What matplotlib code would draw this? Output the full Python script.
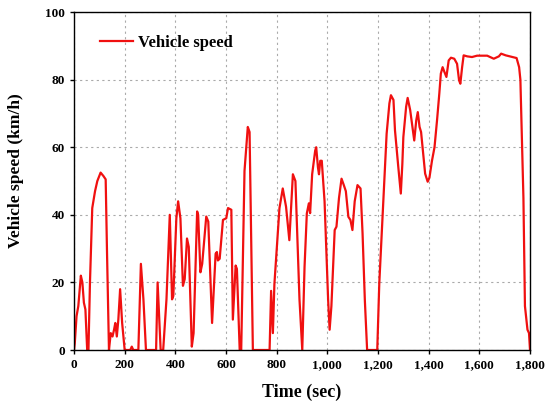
import matplotlib.pyplot as plt
from matplotlib.ticker import FuncFormatter, MultipleLocator

# Speed trace (sec, km/h)
time_s = [
    0, 3, 10, 17, 27, 33, 39, 45, 52, 57, 63, 72, 83, 92, 105, 116, 125, 130, 138,
    145, 152, 158, 163, 169, 175, 182, 190, 200, 222, 228, 234, 254, 264, 274, 284,
    324, 330, 337, 342, 352, 365, 378, 387, 392, 404, 411, 420, 430, 437, 446, 453,
    465, 472, 486, 490, 499, 506, 522, 530, 545, 559, 564, 568, 575, 588, 601, 608,
    621, 627, 638, 643, 654, 660, 673, 686, 693, 706, 772, 778, 785, 791, 811, 824,
    837, 850, 864, 874, 890, 901, 910, 919, 927, 932, 940, 952, 956, 963, 967, 972,
    978, 989, 1003, 1009, 1016, 1029, 1036, 1046, 1056, 1065, 1073, 1083, 1091, 1099,
    1108, 1119, 1131, 1139, 1148, 1157, 1197, 1205, 1221, 1234, 1245, 1251, 1261, 1267,
    1280, 1290, 1296, 1300, 1311, 1317, 1327, 1336, 1343, 1351, 1357, 1364, 1370, 1377,
    1386, 1396, 1403, 1413, 1423, 1433, 1442, 1448, 1455, 1462, 1470, 1479, 1488, 1501,
    1512, 1520, 1525, 1532, 1538, 1552, 1571, 1591, 1631, 1657, 1677, 1686, 1704, 1730,
    1747, 1757, 1762, 1774, 1780, 1790, 1796, 1800,
]
speed_kmh = [
    0, 2, 10, 13, 22, 20, 14, 12, 0, 0, 20, 42, 47, 50, 52.5, 51.5, 50.5, 30, 0,
    5, 4, 6, 8, 4, 9, 18, 8, 0, 0, 1, 0, 0, 25.5, 15, 0,
    0, 20, 8, 0, 0, 15, 40, 15, 16, 39, 44, 39, 19, 21, 33, 30.5,
    1, 5, 41, 40, 23, 25.5, 39.5, 38, 8, 28.5, 29, 26.5, 27, 38.5, 39, 42,
    41.5, 9, 25, 24, 0, 0, 53, 66, 64.5, 0, 0, 17.5, 5, 19.5, 42, 47.8,
    42.4, 32.5, 52, 50, 15, 0, 24.6, 40.4, 43.4, 40.5, 52, 59, 60, 54, 52, 56,
    56, 44, 15, 6, 13, 35.5, 36.5, 45, 50.7, 48.8, 47, 39.4, 38.5, 35.5,
    44, 48.8, 47.8, 34.5, 14.8, 0, 0, 19.7, 44.3, 64, 73, 75.4, 74, 65,
    54.2, 46.3, 55, 63, 72, 74.6, 71, 66, 62, 68, 70.4, 66, 64.5, 59,
    52.2, 49.8, 51, 56, 60, 68, 75.9, 81.8, 83.7, 82.3, 80.8, 85.7, 86.5, 86.2,
    84.7, 79.8, 78.8, 83.7, 87.2, 86.9, 86.7, 87.1, 87.1, 86.2, 86.9, 87.7, 87.2, 86.7,
    86.4, 83.7, 80, 45, 13, 6, 5, 0,
]

plt.rcParams['font.family'] = ['Liberation Serif', 'DejaVu Serif']
plt.rcParams['font.weight'] = 'bold'

fig = plt.figure(figsize=(5.45, 4.03), dpi=100)
ax = fig.add_axes([0.1358, 0.1315, 0.8367, 0.8385])

ax.plot(time_s, speed_kmh, color='#f01010', linewidth=1.6, label='Vehicle speed')

ax.set_xlim(0, 1800)
ax.set_ylim(0, 100)
ax.xaxis.set_major_locator(MultipleLocator(200))
ax.yaxis.set_major_locator(MultipleLocator(20))
ax.xaxis.set_major_formatter(FuncFormatter(lambda v, p: f"{int(v):,}"))
ax.grid(True, linestyle=(0, (2, 3)), color='#aaaaaa', linewidth=0.8)
ax.tick_params(direction='out', length=3, width=1, labelsize=9.5)
for lab in ax.get_xticklabels() + ax.get_yticklabels():
    lab.set_fontweight('bold')
for sp in ax.spines.values():
    sp.set_linewidth(1.0)

ax.set_xlabel('Time (sec)', fontsize=13, fontweight='bold', labelpad=9)
ax.set_ylabel('Vehicle speed (km/h)', fontsize=12.5, fontweight='bold')
ax.yaxis.set_label_coords(-0.11, 0.53)

ax.legend(loc='center left', frameon=False, handlelength=2.0, handletextpad=0.3,
          borderaxespad=0, borderpad=0, bbox_to_anchor=(0.057, 0.908),
          prop={'weight': 'bold', 'size': 12})

fig.savefig('out.png', dpi=100)
